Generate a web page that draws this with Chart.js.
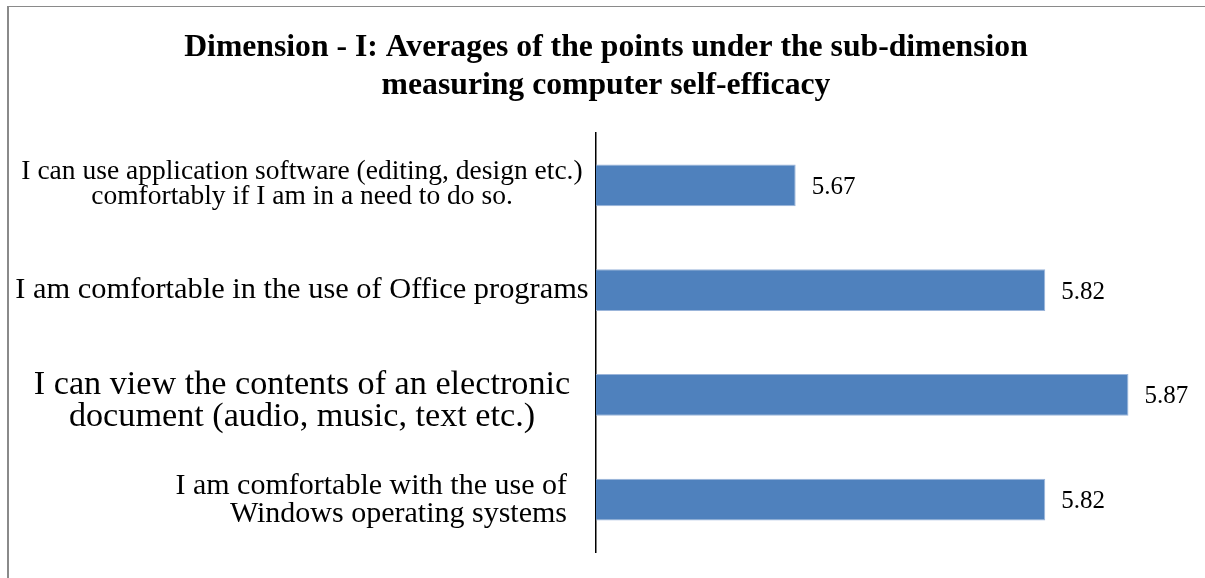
<!DOCTYPE html>
<html>
<head>
<meta charset="utf-8">
<title>Computer self-efficacy</title>
<script src="https://cdn.jsdelivr.net/npm/chart.js@4.4.1/dist/chart.umd.min.js"></script>
<style>
  html, body { margin: 0; padding: 0; background: #fff; }
  #wrap { position: relative; width: 1205px; height: 578px; overflow: hidden; }
  #frame {
    position: absolute; left: 7px; top: 6px; right: -2px; bottom: -2px;
    border-top: 1px solid #8a8a8a; border-left: 2px solid #8a8a8a;
    pointer-events: none;
  }
</style>
</head>
<body>
<div id="wrap">
  <canvas id="chart1" width="1205" height="578"></canvas>
  <div id="frame"></div>
</div>
<script>
var titleLines = [
    "Dimension - I: Averages of the points under the sub-dimension",
    "measuring computer self-efficacy"
];

var categories = [
    ["I can use application software (editing, design etc.)", "comfortably if I am in a need to do so."],
    ["I am comfortable in the use of Office programs"],
    ["I can view the contents of an electronic", "document (audio, music, text etc.)"],
    ["I am comfortable with the use of", "Windows operating systems"]
];

var averages = [5.67, 5.82, 5.87, 5.82];

var axisMin = 5.55;
var axisMax = 5.916;

var serif = "'Liberation Serif', 'Times New Roman', serif";

// look of the category labels (the reference mixes sizes and alignment)
var labelStyle = {
    sizes: [27.5, 30.4, 34.2, 30],
    spacing: [25, 0, 32, 28],
    shift: [-1, 0, 6, 0],
    align: ['center', 'center', 'center', 'right'],
    centerX: 302,
    rightX: 567
};

var categoryLabels = {
    id: 'categoryLabels',
    afterDraw: function(chart) {
        var ctx = chart.ctx;
        var yScale = chart.scales.y;
        ctx.save();
        ctx.fillStyle = '#000';
        ctx.textBaseline = 'middle';
        categories.forEach(function(lines, i) {
            var step = labelStyle.spacing[i];
            var y0 = yScale.getPixelForTick(i) + labelStyle.shift[i] - (lines.length - 1) * step / 2;
            var right = labelStyle.align[i] == 'right';
            var x = right ? labelStyle.rightX : labelStyle.centerX;
            ctx.textAlign = right ? 'right' : 'center';
            ctx.font = labelStyle.sizes[i] + "px " + serif;
            lines.forEach(function(line, j) {
                ctx.fillText(line, x, y0 + j * step);
            });
        });
        ctx.restore();
    }
};

var valueLabels = {
    id: 'valueLabels',
    afterDatasetsDraw: function(chart) {
        var ctx = chart.ctx;
        var meta = chart.getDatasetMeta(0);
        ctx.save();
        ctx.fillStyle = '#000';
        ctx.font = "25px " + serif;
        ctx.textAlign = 'left';
        ctx.textBaseline = 'middle';
        meta.data.forEach(function(bar, i) {
            ctx.fillText(averages[i].toFixed(2), bar.x + 16, bar.y + 2);
        });
        ctx.restore();
    }
};

var ctx = document.getElementById("chart1").getContext("2d");
var chart1 = new Chart(ctx, {
    type: 'bar',
    data: {
        labels: categories,
        datasets: [{
            label: "Average",
            data: averages,
            backgroundColor: "#4F81BD",
            borderColor: "#9bb5da",
            borderWidth: 1,
            categoryPercentage: 1,
            barPercentage: 0.4
        }]
    },
    options: {
        indexAxis: 'y',
        responsive: false,
        animation: false,
        devicePixelRatio: 1,
        layout: {
            padding: { left: 7, right: 0, top: 7, bottom: 26 }
        },
        plugins: {
            legend: { display: false },
            tooltip: { enabled: false },
            title: {
                display: true,
                text: titleLines,
                color: '#000',
                font: { family: serif, size: 31.7, weight: 'bold', lineHeight: 38 / 31.7 },
                padding: { top: 22, bottom: 28 }
            }
        },
        scales: {
            x: {
                display: false,
                min: axisMin,
                max: axisMax
            },
            y: {
                grid: { display: false },
                border: { display: true, color: '#000', width: 1.5 },
                ticks: { display: false },
                afterFit: function(scale) {
                    scale.width = 589;
                }
            }
        }
    },
    plugins: [categoryLabels, valueLabels]
});
</script>
</body>
</html>
